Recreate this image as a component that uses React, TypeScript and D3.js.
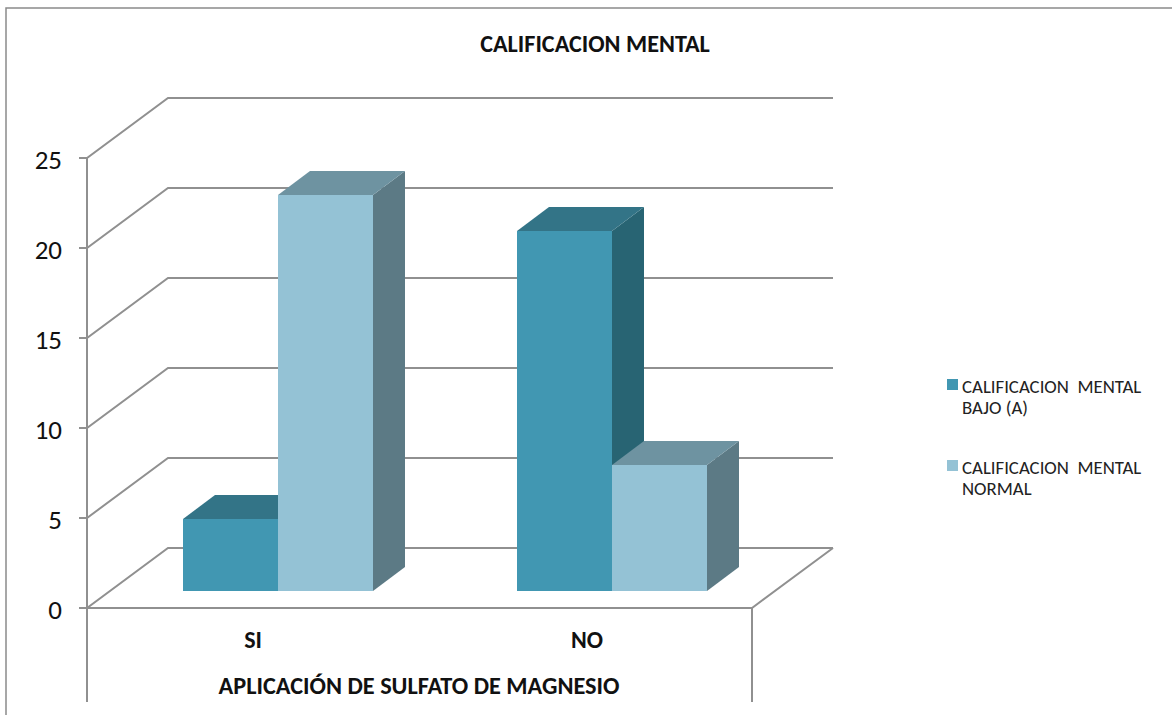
import React from "react";
import * as d3 from "d3";

const categories = ["SI", "NO"];
const seriesNames = ["CALIFICACION  MENTAL BAJO (A)", "CALIFICACION  MENTAL NORMAL"];
const legendLines = [
  ["CALIFICACION  MENTAL", "BAJO (A)"],
  ["CALIFICACION  MENTAL", "NORMAL"],
];
const bajoValues = [4, 20];
const normalValues = [22, 7];
const yTicks = [0, 5, 10, 15, 20, 25];

const chartTitle = "CALIFICACION MENTAL";
const xTitle = "APLICACIÓN DE SULFATO DE MAGNESIO";

const WIDTH = 1172;
const HEIGHT = 715;
const FONT = "Carlito, Calibri, 'Open Sans', 'Noto Sans', sans-serif";
const AXIS = "#909090";

// Front plane of the 3D box and the offset to its back wall.
const y = d3.scaleLinear().domain([0, 25]).range([608, 158]);
const x = d3.scaleBand<string>().domain(categories).range([88, 756]);
const BACK = { dx: 81, dy: -60 };
// Bars stand partway into the box and have a shallower depth of their own.
const BAR_BASE_SHIFT = { dx: 23, dy: -17 };
const BAR_DEPTH = { dx: 32, dy: -24 };
const BAR_WIDTH = 95;

const palette = [
  { front: "#4197b2", top: "#337487", side: "#286473" },
  { front: "#94c2d5", top: "#6e93a1", side: "#5c7a85" },
];

type Bar = { key: string; x0: number; x1: number; top: number; base: number; tone: number };

const bars: Bar[] = categories.flatMap((c, ci) =>
  [bajoValues[ci], normalValues[ci]].map((v, si) => {
    const left = (x(c) as number) + x.bandwidth() / 2 - BAR_WIDTH + si * BAR_WIDTH + BAR_BASE_SHIFT.dx;
    return {
      key: `${c}-${seriesNames[si]}`,
      x0: left,
      x1: left + BAR_WIDTH,
      top: y(v) + BAR_BASE_SHIFT.dy,
      base: y(0) + BAR_BASE_SHIFT.dy,
      tone: si,
    };
  })
);

const pts = (p: [number, number][]) => p.map((q) => q.join(",")).join(" ");

export default function App() {
  const left = x.range()[0] - 1;
  const right = 752;
  return (
    <svg
      width={WIDTH}
      height={HEIGHT}
      style={{ position: "absolute", left: 0, top: 0, background: "#fff" }}
      fontFamily={FONT}
    >
      {/* outer chart frame */}
      <path d="M6,715 V8 H1172" fill="none" stroke="#8a8a8a" strokeWidth={1.5} />

      {/* walls and floor */}
      <g fill="none" stroke={AXIS} strokeWidth={2}>
        {yTicks.map((t) => (
          <polyline
            key={t}
            points={pts([
              [left - 8, y(t)],
              [left, y(t)],
              [left + BACK.dx, y(t) + BACK.dy],
              [right + BACK.dx, y(t) + BACK.dy],
            ])}
          />
        ))}
        <line x1={left} x2={left} y1={y(25)} y2={702} />
        <polyline
          points={pts([
            [left, y(0)],
            [right, y(0)],
            [right + BACK.dx, y(0) + BACK.dy],
          ])}
        />
        <line x1={right} x2={right} y1={y(0)} y2={702} />
      </g>

      {/* bars: side and top first so neighbours overlap correctly */}
      {bars.map((b) => {
        const c = palette[b.tone];
        return (
          <g key={b.key}>
            <polygon
              fill={c.side}
              points={pts([
                [b.x1, b.top],
                [b.x1 + BAR_DEPTH.dx, b.top + BAR_DEPTH.dy],
                [b.x1 + BAR_DEPTH.dx, b.base + BAR_DEPTH.dy],
                [b.x1, b.base],
              ])}
            />
            <polygon
              fill={c.top}
              points={pts([
                [b.x0, b.top],
                [b.x0 + BAR_DEPTH.dx, b.top + BAR_DEPTH.dy],
                [b.x1 + BAR_DEPTH.dx, b.top + BAR_DEPTH.dy],
                [b.x1, b.top],
              ])}
            />
            <rect x={b.x0} y={b.top} width={BAR_WIDTH} height={b.base - b.top} fill={c.front} />
          </g>
        );
      })}

      {/* value axis labels */}
      <g fontSize={27} fill="#111" textAnchor="end">
        {yTicks.map((t) => (
          <text key={t} x={62} y={y(t) + 11}>
            {t}
          </text>
        ))}
      </g>

      {/* category labels */}
      <g fontSize={24} fontWeight={700} fill="#111" textAnchor="middle">
        {categories.map((c) => (
          <text key={c} x={(x(c) as number) + x.bandwidth() / 2 - 2} y={648}>
            {c}
          </text>
        ))}
      </g>

      <text x={419} y={694} fontSize={24.3} fontWeight={700} fill="#111" textAnchor="middle">
        {xTitle}
      </text>
      <text x={595} y={52} fontSize={24.2} fontWeight={700} fill="#111" textAnchor="middle">
        {chartTitle}
      </text>

      {/* legend */}
      {legendLines.map((lines, i) => (
        <g key={seriesNames[i]} transform={`translate(947,${379 + i * 81})`}>
          <rect width={11} height={11} fill={palette[i].front} />
          {lines.map((l, j) => (
            <text key={j} x={15} y={14 + j * 21} fontSize={18.8} fill="#222" style={{ whiteSpace: "pre" }}>
              {l}
            </text>
          ))}
        </g>
      ))}
    </svg>
  );
}
